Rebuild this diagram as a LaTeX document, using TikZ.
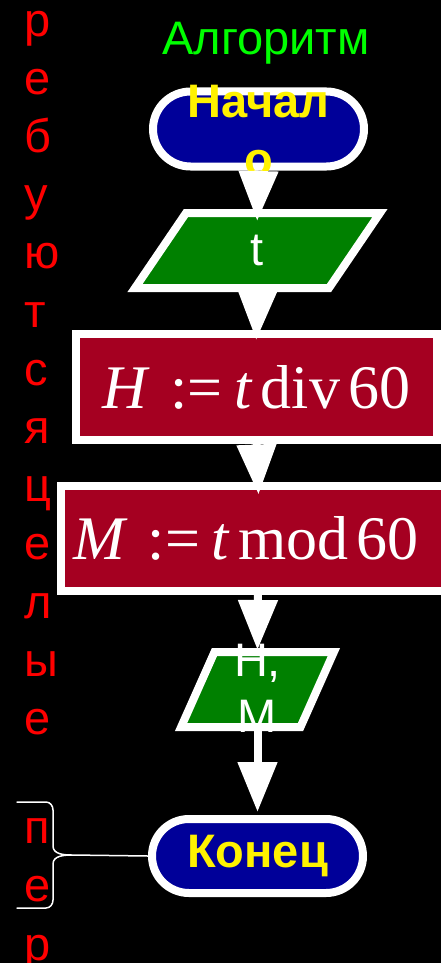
\documentclass[tikz,border=0pt]{standalone}
\usepackage{fontspec}
\setmainfont{Liberation Sans}
\newfontfamily\formfont{Liberation Serif}
\usetikzlibrary{arrows.meta, shapes.geometric, shapes.misc}
\definecolor{termblue}{RGB}{0,0,153}
\definecolor{iogreen}{RGB}{0,128,0}
\definecolor{proccrim}{RGB}{165,0,33}
\definecolor{notered}{RGB}{255,0,0}
\definecolor{titlegreen}{RGB}{0,255,0}
\tikzset{
  term/.style = {
    rounded rectangle, draw=white, fill=termblue,
    line width=8pt, inner sep=0pt,
    minimum width=211pt, minimum height=75pt
  },
  termtxt/.style = {
    text=yellow, font=\bfseries\fontsize{47}{58}\selectfont,
    align=center, inner sep=0pt
  },
  io/.style = {
    trapezium, draw=white, fill=iogreen, line width=8pt,
    inner ysep=37.5pt
  },
  iotxt/.style = {
    text=white, font=\fontsize{47}{56}\selectfont,
    align=center, inner sep=0pt
  },
  proc/.style = {
    rectangle, draw=white, fill=proccrim, line width=8pt, inner sep=0pt,
    text=white, font=\formfont\fontsize{62}{62}\selectfont
  },
  flow/.style = {-{Triangle[length=50pt,width=38pt]}, white, line width=8pt},
  note/.style = {
    text=notered, font=\fontsize{47}{58.2}\selectfont,
    align=left, inner sep=0pt, anchor=north west
  },
  brc/.style  = {white, line width=1.5pt, line cap=round}
}

\begin{document}
\begin{tikzpicture}[x=1pt, y=1pt]
  \useasboundingbox (0,0) rectangle (441,-963);
  \fill[black] (0,0) rectangle (441,-963);

  %% Title
  \node[text=titlegreen, font=\fontsize{47}{56}\selectfont, anchor=base, inner sep=0pt]
    (title) at (266,-55) {Алгоритм};

  %% Blocks of the flowchart
  \node[term] (start) at (258.5,-129) {};
  \node[io, inner xsep=71.5pt,
        trapezium left angle=55.8, trapezium right angle=124.2]
    (inp) at (257.5,-250.5) {};
  \node[proc, minimum width=361pt, minimum height=106pt]
    (hdiv) at (256.5,-387) {\textit{H}\hspace{20pt}:=\hspace{12pt}\textit{t}\hspace{8pt}div\hspace{8pt}60};
  \node[proc, minimum width=394pt, minimum height=105pt]
    (mmod) at (258,-538) {\textit{M}\hspace{20pt}:=\hspace{12pt}\textit{t}\hspace{8pt}mod\hspace{8pt}60\kern24pt};
  \node[io, inner xsep=43pt,
        trapezium left angle=66, trapezium right angle=114]
    (outp) at (257.5,-689.5) {};
  \node[term, minimum height=74pt] (stop) at (257.5,-856) {};

  %% Texts of the blocks
  \node[termtxt] (starttxt) at (258.5,-130.5) {Начал\\о};
  \node[iotxt]   (inptxt)   at (257.5,-250.5) {t};
  \node[iotxt]   (outptxt)  at (257.5,-688) {H,\\M};
  \node[termtxt] (stoptxt)  at (257.5,-856) {Конец};

  %% Arrows
  \draw[flow, shorten >=-12pt] (start.south) -- (inp.north);
  \draw[flow, shorten >=-10pt] (inp.south) -- (hdiv.north);
  \draw[flow, shorten >=-13pt] (hdiv.south) -- (mmod.north);
  \draw[flow, shorten >=-2pt] (mmod.south) -- (outp.north);
  \draw[flow, shorten >=3pt] (outp.south) -- (stop.north);

  %% Red note down the left side
  \node[note] (note1) at (24,-10.6) {р\\е\\б\\у\\ю\\т\\с\\я\\ц\\е\\л\\ы\\е};
  \node[note] (note2) at (24,-818.6) {п\\е\\р};

  %% Brace and its line to the end block
  \draw[brc] (17,-802) -- (46,-802) to[out=0, in=90] (53,-810)
    -- (53,-846) to[out=-90, in=180] (72,-855) coordinate (tip)
    to[out=180, in=90] (53,-864) -- (53,-900)
    to[out=-90, in=0] (46,-908) -- (17,-908);
  \draw[brc] (tip) -- (stop.west);
\end{tikzpicture}
\end{document}
